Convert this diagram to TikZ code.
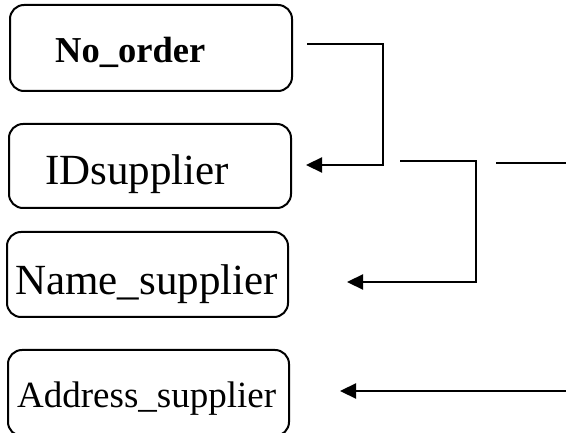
\documentclass[tikz,border=0pt]{standalone}
\usepackage{fontspec}
\setmainfont{Liberation Serif}
\usetikzlibrary{arrows.meta}
\tikzset{
  attrbox/.style={draw, line width=2pt, rounded corners=14pt},
  attrtext/.style={anchor=base west, inner sep=0pt, font=\fontsize{43}{43}\selectfont},
  link/.style={line width=2.2pt},
  linkarrow/.style={link, -{Triangle[length=16pt,width=15pt]}}
}
\begin{document}
\begin{tikzpicture}[x=1pt,y=-1pt]
\useasboundingbox (0,0) rectangle (566,433);
\clip (0,0) rectangle (566,433);
% attribute boxes
\draw[attrbox] (10,5) rectangle (292,91);
\draw[attrbox] (9,124) rectangle (291,208);
\draw[attrbox] (7,232) rectangle (288,317);
\draw[attrbox] (8,350) rectangle (289,436);
% labels
\node[attrtext, font=\bfseries\fontsize{36.5}{36.5}\selectfont] (noorder) at (55,63) {No\_order};
\node[attrtext] (idsup) at (45,185) {IDsupplier};
\node[attrtext] (namesup) at (15,295) {Name\_supplier};
\node[attrtext, font=\fontsize{37}{37}\selectfont] (addrsup) at (17,407) {Address\_supplier};
% connector end points
\coordinate (a1) at (307,44);
\coordinate (a2) at (383,165);
\coordinate (a3) at (306,165);
\coordinate (b1) at (400,161);
\coordinate (b2) at (476,282);
\coordinate (b3) at (347,282);
\coordinate (c1) at (496,163);
\coordinate (c2) at (566,163);
\coordinate (d1) at (566,391);
\coordinate (d2) at (340,391);
% connectors
\draw[linkarrow] (a1) -| (a2) -- (a3);
\draw[linkarrow] (b1) -| (b2) -- (b3);
\draw[link] (c1) -- (c2);
\draw[linkarrow] (d1) -- (d2);
\end{tikzpicture}
\end{document}
